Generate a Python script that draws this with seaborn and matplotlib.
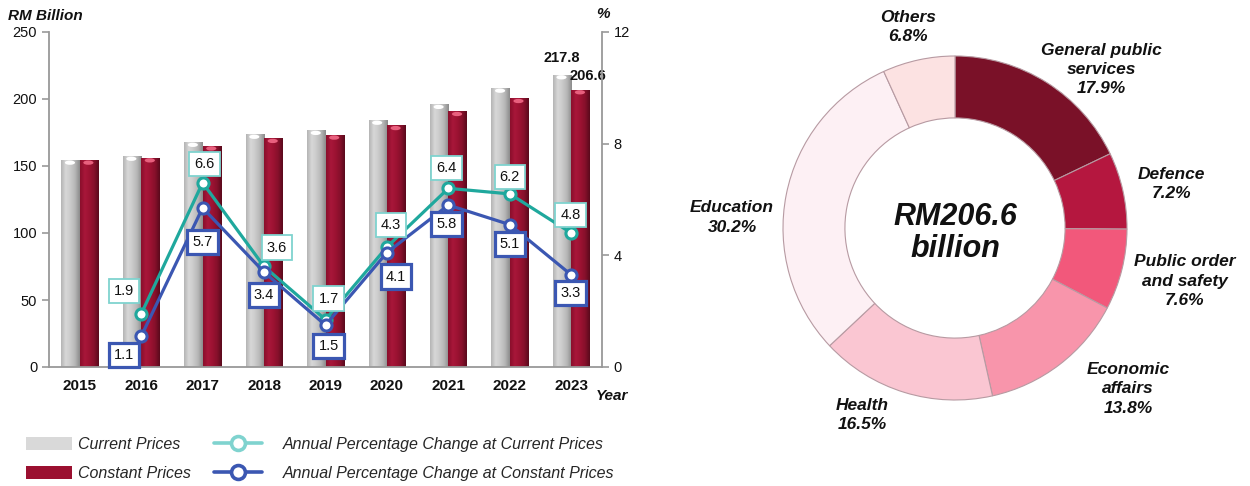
import numpy as np
import pandas as pd
import matplotlib
matplotlib.use("Agg")
import matplotlib.pyplot as plt
import seaborn as sns
from matplotlib.patches import Patch, Ellipse
from matplotlib.lines import Line2D
from matplotlib.colors import LinearSegmentedColormap

# ---------------- data ----------------
years = ["2015", "2016", "2017", "2018", "2019", "2020", "2021", "2022", "2023"]
current_prices = [154.1, 157.0, 167.4, 173.4, 176.3, 183.9, 195.7, 207.8, 217.8]
constant_prices = [154.1, 155.8, 164.7, 170.3, 172.8, 179.9, 190.4, 200.1, 206.6]
pct_current = [np.nan, 1.9, 6.6, 3.6, 1.7, 4.3, 6.4, 6.2, 4.8]
pct_constant = [np.nan, 1.1, 5.7, 3.4, 1.5, 4.1, 5.8, 5.1, 3.3]

sectors = ["General public\nservices", "Defence", "Public order\nand safety",
           "Economic\naffairs", "Health", "Education", "Others"]
shares = [17.9, 7.2, 7.6, 13.8, 16.5, 30.2, 6.8]
total_label = "RM206.6\nbillion"

# ---------------- style ----------------
sns.set_style("white")
plt.rcParams["font.family"] = ["Liberation Sans", "DejaVu Sans"]

GRAY = "#c4c4c4"
RED = "#9c1232"
TEAL = "#1fa89d"
TEAL_LIGHT = "#7fd3cf"
BLUE = "#3b57b2"
SPINE = "#999999"
TXT = "#111111"
sector_colors = ["#7a1128", "#b5173f", "#f2587b", "#f895ab", "#fac6d2", "#fdf0f4", "#fce2e2"]

fig = plt.figure(figsize=(12.5, 4.86), dpi=100)
W, H = 1250, 486
ax = fig.add_axes([49 / W, 1 - 367 / H, (602 - 49) / W, (367 - 32) / H])

df = pd.DataFrame({
    "Year": years * 2,
    "Series": ["Current Prices"] * len(years) + ["Constant Prices"] * len(years),
    "Value": current_prices + constant_prices,
})
sns.barplot(data=df, x="Year", y="Value", hue="Series",
            palette={"Current Prices": GRAY, "Constant Prices": RED},
            width=0.6, gap=0, saturation=1, legend=False, ax=ax, zorder=2)

# cylinder-like shading on bars
cmap_gray = LinearSegmentedColormap.from_list("g", ["#b4b4b4", "#d8d8d8", "#cacaca", "#b6b6b6", "#8c8c8c"])
cmap_red = LinearSegmentedColormap.from_list("r", ["#8a0f2c", "#a8173a", "#9c1232", "#86102b", "#5a0a1c"])
grad = np.linspace(0, 1, 64)[np.newaxis, :]
for cont, cm, cap in zip(ax.containers, [cmap_gray, cmap_red], ["#ffffff", "#e8607e"]):
    for p in cont:
        x0, w, h = p.get_x(), p.get_width(), p.get_height()
        ax.imshow(grad, extent=(x0, x0 + w, 0, h), aspect="auto", cmap=cm,
                  zorder=2.5, interpolation="bilinear")
        e = Ellipse((x0 + w * 0.47, h - 1.6), width=w * 0.55, height=3.2,
                    facecolor=cap, edgecolor="none", zorder=2.6)
        ax.add_patch(e)

lab_cur = [""] * (len(years) - 1) + [f"{current_prices[-1]:.1f}"]
lab_con = [""] * (len(years) - 1) + [f"{constant_prices[-1]:.1f}"]
anns_c = ax.bar_label(ax.containers[0], labels=lab_cur, padding=7, fontsize=10.5, fontweight="bold", color=TXT)
anns = ax.bar_label(ax.containers[1], labels=lab_con, padding=5, fontsize=10.5, fontweight="bold", color=TXT)
for a in list(anns) + list(anns_c):
    a.set_zorder(6)
for a in anns:
    a.xyann = (5, 5)

ax.set_ylim(0, 250)
ax.set_yticks(np.arange(0, 251, 50))
ax.set_xlabel("")
ax.set_ylabel("")

# ---------------- lines ----------------
ax2 = ax.twinx()
xpos = np.arange(len(years))
sns.lineplot(x=xpos, y=pct_current, ax=ax2, color=TEAL, linewidth=2.3, marker="o",
             markersize=8, markerfacecolor="white", markeredgecolor=TEAL, markeredgewidth=2.2, zorder=4)
sns.lineplot(x=xpos, y=pct_constant, ax=ax2, color=BLUE, linewidth=2.3, marker="o",
             markersize=8, markerfacecolor="white", markeredgecolor=BLUE, markeredgewidth=2.2, zorder=4)

cur_offsets = [None, (-17, 23), (2, 19), (13, 19), (3, 21), (4, 22), (-2, 20), (0, 17), (-1, 18)]
con_offsets = [None, (-17, -19), (0, -34), (0, -23), (3, -21), (9, -24), (-2, -19), (0, -19), (-1, -18)]
for vals, offs, ec, lw in [(pct_current, cur_offsets, TEAL_LIGHT, 1.3), (pct_constant, con_offsets, BLUE, 2.3)]:
    for i, v in enumerate(vals):
        if np.isnan(v):
            continue
        ax2.annotate(f"{v:.1f}", xy=(i, v), xytext=offs[i], textcoords="offset pixels",
                     ha="center", va="center", fontsize=10.5, color=TXT, zorder=7,
                     bbox=dict(boxstyle="square,pad=0.35", facecolor="white", edgecolor=ec, linewidth=lw))

ax2.set_ylim(0, 12)
ax2.set_yticks([0, 4, 8, 12])
ax2.set_ylabel("")
ax2.set_xlabel("")
ax.set_xlim(-0.5, len(years) - 0.5)

# axes styling
for a in (ax, ax2):
    a.spines["top"].set_visible(False)
    for s in ("left", "right", "bottom"):
        a.spines[s].set_color(SPINE)
        a.spines[s].set_linewidth(1.3)
ax.spines["right"].set_visible(False)
ax2.spines["left"].set_visible(False)
ax2.spines["bottom"].set_visible(False)
ax.set_xticks(xpos)
ax.set_xticklabels(years, fontsize=11, fontweight="bold", color=TXT)
ax.set_xticks(np.arange(-0.5, len(years)), minor=True)
ax.tick_params(axis="x", which="major", length=0, pad=9)
ax.tick_params(axis="x", which="minor", length=5, color=SPINE, width=1.2, direction="out")
ax.tick_params(axis="y", length=5, color=SPINE, width=1.2, direction="out", labelsize=10.5, labelcolor=TXT, left=True)
ax2.tick_params(axis="y", length=5, color=SPINE, width=1.2, direction="out", labelsize=10.5, labelcolor=TXT, right=True)

fig.text(8 / W, 1 - 16 / H, "RM Billion", fontsize=11, fontweight="bold", style="italic", ha="left", va="center", color=TXT)
fig.text(603 / W, 1 - 14 / H, "%", fontsize=11, fontweight="bold", style="italic", ha="center", va="center", color=TXT)
fig.text(612 / W, 1 - 396 / H, "Year", fontsize=11, fontweight="bold", style="italic", ha="center", va="center", color=TXT)

# ---------------- legends ----------------
leg_font = dict(family=["Liberation Sans"], style="italic", size=11.5)
h1 = [Patch(facecolor="#d9d9d9", edgecolor="none"), Patch(facecolor="#9b1030", edgecolor="none")]
fig.legend(h1, ["Current Prices", "Constant Prices"], loc="upper left",
           bbox_to_anchor=(26 / W, 1 - 437 / H), frameon=False, borderpad=0, borderaxespad=0,
           handlelength=2.9, handleheight=0.85, handletextpad=0.35, labelspacing=0.9, prop=leg_font)
h2 = [Line2D([], [], color=TEAL_LIGHT, lw=2.6, marker="o", ms=10, mfc="white", mec=TEAL_LIGHT, mew=2.6),
      Line2D([], [], color=BLUE, lw=2.6, marker="o", ms=10, mfc="white", mec=BLUE, mew=2.6)]
fig.legend(h2, ["Annual Percentage Change at Current Prices", "Annual Percentage Change at Constant Prices"],
           loc="upper left", bbox_to_anchor=(214 / W, 1 - 437 / H), frameon=False, borderpad=0,
           borderaxespad=0, handlelength=3.0, handleheight=0.85, handletextpad=1.3, labelspacing=0.9,
           prop=leg_font)

# ---------------- donut ----------------
cx, cy, R = 955, 228, 172
axp = fig.add_axes([(cx - R) / W, 1 - (cy + R) / H, 2 * R / W, 2 * R / H])
wedges, _ = axp.pie(shares, colors=sector_colors, startangle=90, counterclock=False, radius=1,
                    wedgeprops=dict(width=0.36, edgecolor="#b79aa2", linewidth=0.8))
axp.set_xlim(-1, 1)
axp.set_ylim(-1, 1)
axp.set_aspect("equal")

label_r = 1.3
nudges = [(0.16, -0.18), (-0.01, -0.03), (0.076, 0.007), (0.216, 0.097), (-0.155, 0.156), (-0.021, -0.19), (0.002, -0.10)]
for wdg, name, sh, nd in zip(wedges, sectors, shares, nudges):
    th = np.deg2rad((wdg.theta1 + wdg.theta2) / 2)
    x = label_r * np.cos(th) + nd[0]
    y = label_r * np.sin(th) + nd[1]
    axp.text(x, y, f"{name}\n{sh:.1f}%", ha="center", va="center", fontsize=12.5,
             fontweight="bold", style="italic", color=TXT, linespacing=1.35, clip_on=False)

axp.text(0, -0.03, total_label, ha="center", va="center", fontsize=22, fontweight="bold",
         style="italic", color=TXT, linespacing=1.1)

fig.savefig("out.png", dpi=100)
